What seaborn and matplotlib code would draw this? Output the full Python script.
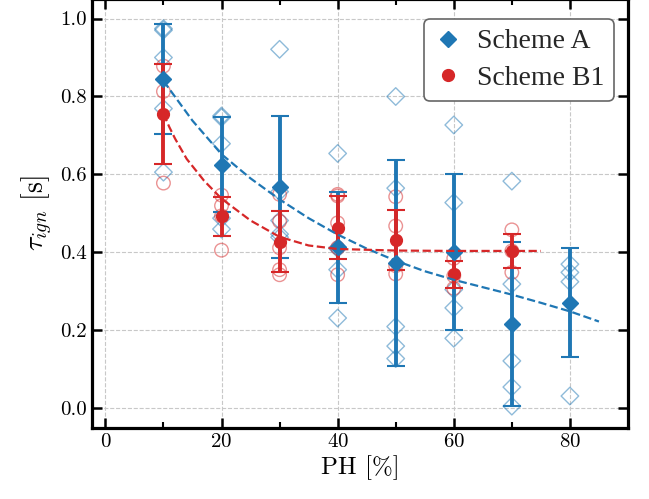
import numpy as np
import pandas as pd
import seaborn as sns
import matplotlib
matplotlib.use("Agg")
import matplotlib.pyplot as plt

# PH levels and measured ignition delays
ph_a = [10, 20, 30, 40, 50, 60, 70, 80]
ph_b = [10, 20, 30, 40, 50, 60, 70]

runs_a = [
    [0.974, 0.970, 0.900, 0.769, 0.606],
    [0.746, 0.750, 0.679, 0.488, 0.460],
    [0.921, 0.556, 0.482, 0.447, 0.439],
    [0.654, 0.412, 0.410, 0.356, 0.232],
    [0.800, 0.565, 0.210, 0.160, 0.128],
    [0.727, 0.528, 0.305, 0.258, 0.180],
    [0.583, 0.319, 0.122, 0.055, 0.006],
    [0.370, 0.349, 0.325, 0.032],
]
runs_b = [
    [0.878, 0.813, 0.578],
    [0.547, 0.520, 0.494, 0.406],
    [0.549, 0.480, 0.412, 0.356, 0.343],
    [0.549, 0.545, 0.476, 0.412, 0.343],
    [0.543, 0.468, 0.366, 0.345],
    [0.385, 0.340, 0.308],
    [0.458, 0.404, 0.349],
]

mean_a = [0.845, 0.625, 0.569, 0.413, 0.373, 0.401, 0.217, 0.271]
std_a = [0.141, 0.122, 0.182, 0.142, 0.265, 0.200, 0.211, 0.140]
mean_b = [0.756, 0.493, 0.428, 0.464, 0.433, 0.344, 0.404]
std_b = [0.128, 0.050, 0.078, 0.080, 0.077, 0.034, 0.043]

# fitted trend curves
fit_a_x = [10, 15, 20, 25, 30, 35, 40, 45, 50, 55, 60, 65, 70, 75, 80, 85]
fit_a_y = [0.840, 0.738, 0.652, 0.590, 0.536, 0.488, 0.446, 0.410, 0.379, 0.352, 0.330, 0.311, 0.292, 0.271, 0.249, 0.223]
fit_b_x = [10, 11, 12, 14, 17, 20, 25, 30, 35, 40, 50, 60, 75]
fit_b_y = [0.756, 0.722, 0.692, 0.640, 0.584, 0.538, 0.482, 0.440, 0.418, 0.409, 0.405, 0.404, 0.404]

blue = "#1f77b4"
red = "#d62728"

sns.set_style("ticks")
plt.rcParams["font.family"] = ["cmr10"]
plt.rcParams["mathtext.fontset"] = "cm"
plt.rcParams["axes.formatter.use_mathtext"] = True

pts_a = pd.DataFrame([(x, v) for x, r in zip(ph_a, runs_a) for v in r], columns=["ph", "tau"])
pts_b = pd.DataFrame([(x, v) for x, r in zip(ph_b, runs_b) for v in r], columns=["ph", "tau"])

fig = plt.figure(figsize=(6.49, 4.99), dpi=100)
ax = fig.add_axes([0.1418, 0.1423, 0.8258, 0.8597])

sns.scatterplot(data=pts_a, x="ph", y="tau", marker="D", s=80, fc="none", ec=blue,
                linewidth=1.0, alpha=0.5, ax=ax, zorder=2)
sns.scatterplot(data=pts_b, x="ph", y="tau", marker="o", s=95, fc="none", ec=red,
                linewidth=1.0, alpha=0.5, ax=ax, zorder=2)

ax.errorbar(ph_a, mean_a, yerr=std_a, fmt="D", color=blue, ms=8, elinewidth=2.8,
            capsize=6.5, capthick=1.5, zorder=3, label="Scheme A")
ax.errorbar(ph_b, mean_b, yerr=std_b, fmt="o", color=red, ms=8.5, elinewidth=2.8,
            capsize=6.5, capthick=1.5, zorder=3, label="Scheme B1")

sns.lineplot(x=fit_a_x, y=fit_a_y, color=blue, linestyle="--", linewidth=1.6, ax=ax, zorder=4)
sns.lineplot(x=fit_b_x, y=fit_b_y, color=red, linestyle="--", linewidth=1.6, ax=ax, zorder=4)

ax.set_xlim(-2.3, 90)
ax.set_ylim(-0.05, 1.05)
ax.set_xticks([0, 20, 40, 60, 80])
ax.set_xticks([10, 30, 50, 70], minor=True)
ax.set_yticks([0.0, 0.2, 0.4, 0.6, 0.8, 1.0])
ax.set_yticklabels(["0.0", "0.2", "0.4", "0.6", "0.8", "1.0"])
ax.grid(True, which="major", linestyle="--", color="#c8c8c8", linewidth=0.8)
ax.set_axisbelow(True)
ax.tick_params(which="both", direction="in", top=True, right=True, labelsize=15,
               color="black", labelcolor="black")
ax.tick_params(which="major", length=7, width=1.8)
ax.tick_params(which="minor", length=4, width=1.5)
for sp in ax.spines.values():
    sp.set_linewidth(2.3)
    sp.set_color("black")

ax.set_xlabel("PH [%]", fontsize=18, labelpad=3, color="black")
ax.set_ylabel(r"$\tau_{ign}$ [s]", fontsize=20, labelpad=4, color="black")

handles, labels = ax.get_legend_handles_labels()
leg = ax.legend([h[0] for h in handles], labels, loc="upper right",
                bbox_to_anchor=(0.974, 0.953), borderaxespad=0,
                prop={"family": "Liberation Serif", "size": 20},
                frameon=True, fancybox=True, edgecolor="#666666", framealpha=1,
                handletextpad=0.55, borderpad=0.35, labelspacing=0.4, handlelength=1.0)
leg.get_frame().set_linewidth(1.2)

fig.savefig("out.png", dpi=100)
